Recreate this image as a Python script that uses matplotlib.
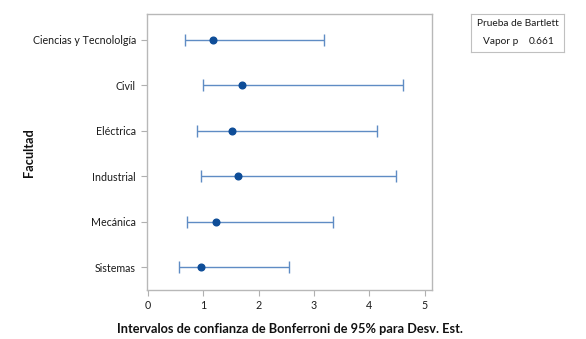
import matplotlib
matplotlib.use("Agg")
import matplotlib.pyplot as plt

# Data
facultades = ["Ciencias y Tecnololgía", "Civil", "Eléctrica", "Industrial", "Mecánica", "Sistemas"]
desv_est = [1.17, 1.69, 1.52, 1.63, 1.225, 0.955]
ic_inf = [0.67, 0.985, 0.88, 0.955, 0.70, 0.565]
ic_sup = [3.18, 4.60, 4.13, 4.49, 3.34, 2.55]
x_ticks = [0, 1, 2, 3, 4, 5]
p_valor = "0.661"

plt.rcParams["font.family"] = ["Lato", "DejaVu Sans"]

fig = plt.figure(figsize=(5.86, 3.39), dpi=100)
ax = fig.add_axes([0.251, 0.1445, 0.486, 0.8145])

n = len(facultades)
ys = [n - 1 - i for i in range(n)]
err = [[d - lo for d, lo in zip(desv_est, ic_inf)],
       [hi - d for d, hi in zip(desv_est, ic_sup)]]
ax.errorbar(desv_est, ys, xerr=err, fmt="none", ecolor="#5f8cc4",
            elinewidth=1.0, capsize=4, capthick=1.0)
ax.plot(desv_est, ys, "o", color="#0e4d98", markersize=4.8)

ax.set_xlim(-0.02, 5.13)
ax.set_ylim(-0.5, n - 0.43)
ax.set_xticks(x_ticks)
ax.set_yticks(ys)
ax.set_yticklabels(facultades)

for s in ax.spines.values():
    s.set_color("#b8b8b8")
    s.set_linewidth(1.0)
ax.tick_params(axis="both", colors="#b0b0b0", labelcolor="#1a1a1a",
               labelsize=7.7, length=4, width=0.8)
ax.tick_params(axis="y", pad=4)

ax.set_xlabel("Intervalos de confianza de Bonferroni de 95% para Desv. Est.",
              fontsize=9.2, fontweight="bold", color="#111111", labelpad=8)
fig.text(0.05, 0.55, "Facultad", rotation=90, fontsize=9.2,
         fontweight="bold", color="#111111", ha="center", va="center")

# Bartlett test box
box = fig.add_axes([0.804, 0.847, 0.159, 0.112])
box.set_xticks([])
box.set_yticks([])
for s in box.spines.values():
    s.set_color("#c0c0c0")
box.text(0.5, 0.74, "Prueba de Bartlett", ha="center", va="center",
         fontsize=7.3, color="#1a1a1a", transform=box.transAxes)
box.text(0.13, 0.27, "Vapor p", ha="left", va="center",
         fontsize=7.3, color="#1a1a1a", transform=box.transAxes)
box.text(0.9, 0.27, p_valor, ha="right", va="center",
         fontsize=7.3, color="#1a1a1a", transform=box.transAxes)

fig.savefig("out.png", dpi=100)
